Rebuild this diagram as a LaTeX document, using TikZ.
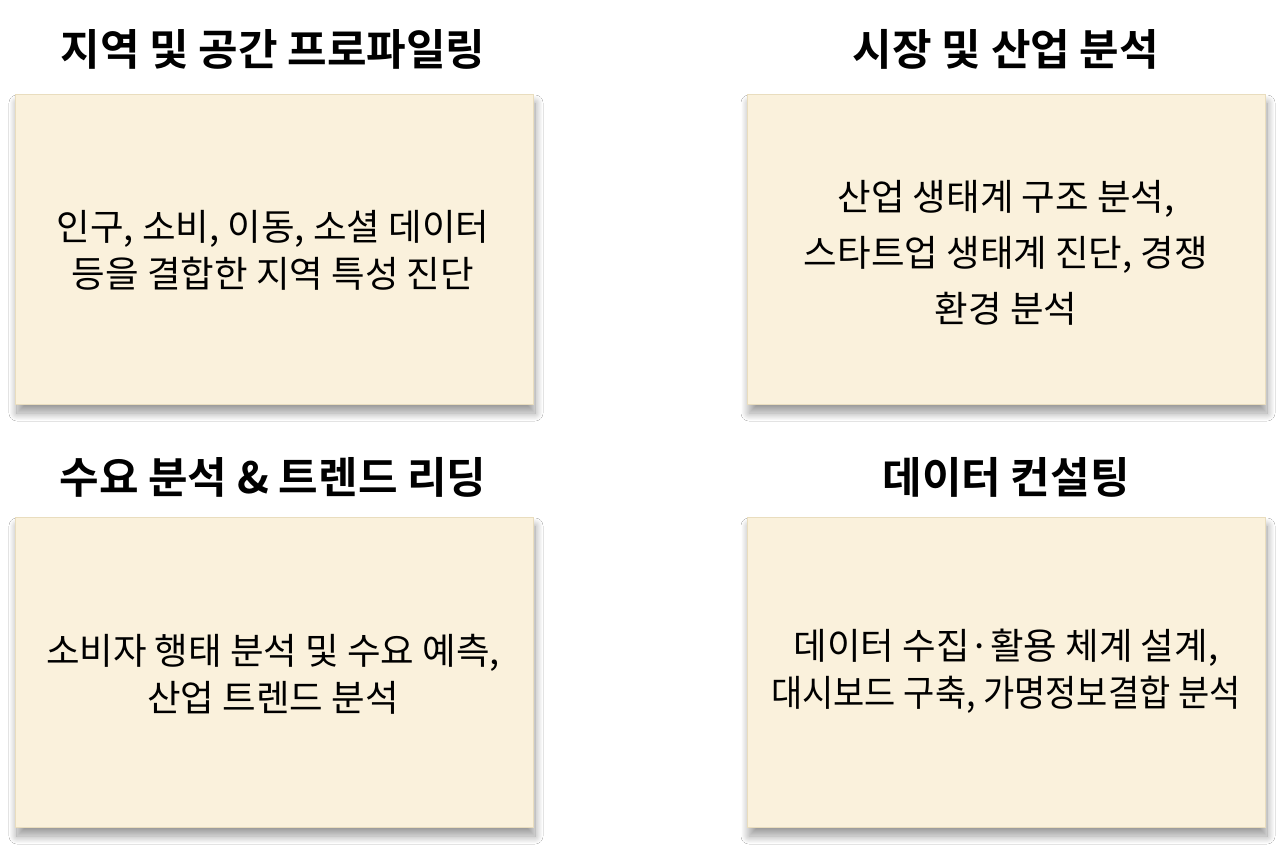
\documentclass[tikz,border=0pt]{standalone}
\usepackage{fontspec}
\setmainfont{Noto Sans CJK KR}
\newfontfamily\krbold{Noto Sans CJK KR Bold}
\newfontfamily\krnarrow[FakeStretch=0.93]{Noto Sans CJK KR}
\usetikzlibrary{shadows.blur}
\definecolor{boxfill}{HTML}{FAF1DC}
\definecolor{boxline}{HTML}{E9DDBE}
\tikzset{
  card/.style={draw=boxline, line width=0.8pt, fill=boxfill,
    blur shadow={shadow xshift=2pt, shadow yshift=-9pt, shadow blur radius=8pt, shadow blur steps=20, shadow opacity=40}},
  ttl/.style={font=\krbold\fontsize{43}{50}\selectfont, text=black},
  body/.style={font=\fontsize{36.5}{47}\selectfont, align=center, text=black}
}
\begin{document}
\begin{tikzpicture}[x=1pt,y=-1pt]
\useasboundingbox[fill=white] (0,0) rectangle (1280,854);
% boxes
\path[card] (15,94) rectangle (533,404);
\path[card] (747,94) rectangle (1265,404);
\path[card] (15,517) rectangle (533,827);
\path[card] (747,517) rectangle (1265,827);
% titles
\node[ttl] (t1) at (273,49) {지역 및 공간 프로파일링};
\node[ttl] (t2) at (1006,49) {시장 및 산업 분석};
\node[ttl] (t3) at (273,477) {수요 분석 \& 트렌드 리딩};
\node[ttl] (t4) at (1006,477) {데이터 컨설팅};
% bodies
\node[body] (b1) at (273,250) {인구, 소비, 이동, 소셜 데이터\\등을 결합한 지역 특성 진단};
\node[body, font=\fontsize{36.5}{56}\selectfont] (b2) at (1006,253) {산업 생태계 구조 분석,\\스타트업 생태계 진단, 경쟁\\환경 분석};
\node[body] (b3) at (273,674) {소비자 행태 분석 및 수요 예측,\\산업 트렌드 분석};
\node[body] (b4) at (1006,671) {데이터 수집·활용 체계 설계,\\{\krnarrow 대시보드 구축, 가명정보결합 분석}};
\end{tikzpicture}
\end{document}
